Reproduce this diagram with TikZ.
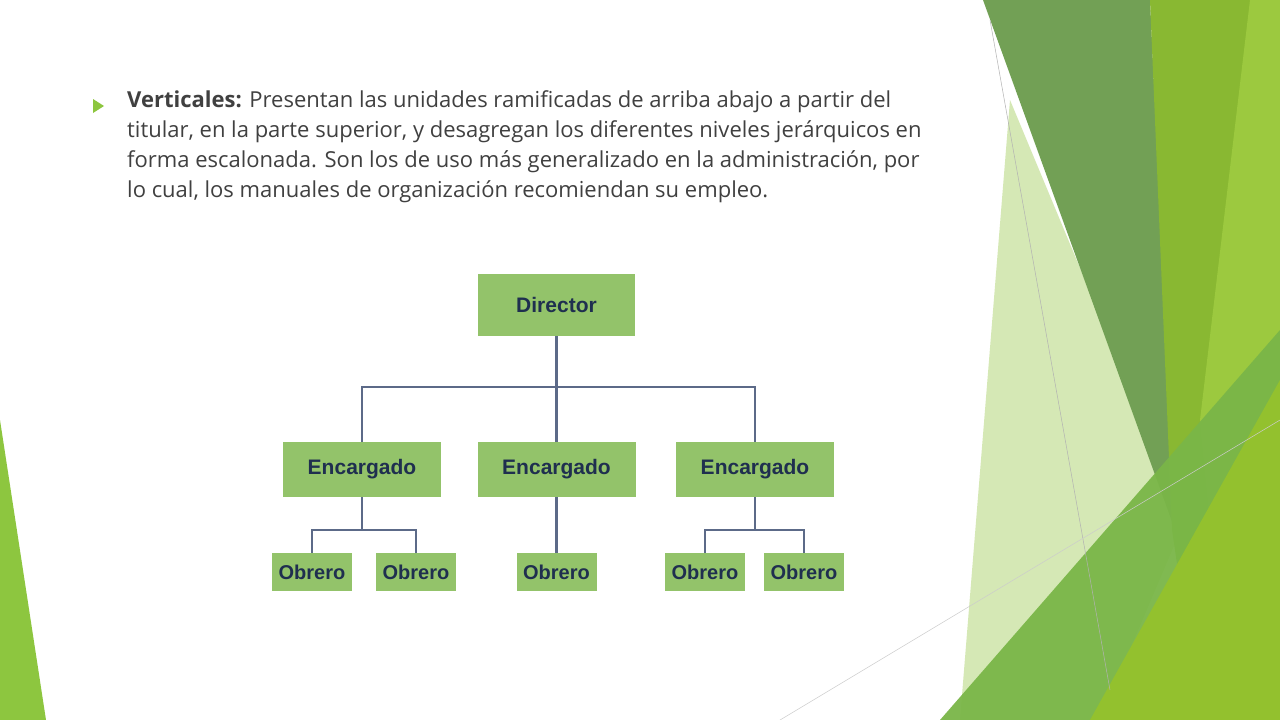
\documentclass[tikz,border=0pt]{standalone}
\usepackage{fontspec}
\setmainfont{Open Sans}
\newfontfamily\boxfont{Liberation Sans}
\begin{document}
\begin{tikzpicture}[x=1pt,y=-1pt,
  box/.style={fill=boxg,draw=none,inner sep=0pt,text=navy},
  link/.style={draw=linec,line width=2.2pt}]
\definecolor{boxg}{HTML}{93C36A}
\definecolor{navy}{HTML}{1F2F4F}
\definecolor{linec}{HTML}{5C6A88}
\definecolor{txt}{HTML}{404040}
\useasboundingbox (0,0) rectangle (1280,720);
\fill[white] (0,0) rectangle (1280,720);
% decoration
\fill[fill={rgb,255:red,141;green,198;blue,63}] (0,420) -- (46,720) -- (0,720) -- cycle;
\fill[fill={rgb,255:red,213;green,232;blue,181}] (1010,100) -- (1185,520) -- (1100,720) -- (960,720) -- cycle;
\fill[fill={rgb,255:red,114;green,160;blue,85}] (983,0) -- (1150,0) -- (1175,530) -- cycle;
\fill[fill={rgb,255:red,137;green,184;blue,50}] (1150,0) -- (1250,0) -- (1280,200) -- (1280,720) -- (1200,720) -- (1172,530) -- cycle;
\fill[fill={rgb,255:red,156;green,201;blue,63}] (1250,0) -- (1280,0) -- (1280,720) -- (1230,720) -- (1200,420) -- cycle;
\fill[fill={rgb,255:red,122;green,182;blue,72},opacity=0.95] (940,720) -- (1280,330) -- (1280,720) -- cycle;
\fill[fill={rgb,255:red,147;green,193;blue,46}] (1090,720) -- (1280,380) -- (1280,720) -- cycle;
\draw[gray!60,line width=0.5pt] (990,20) -- (1110,690);
\draw[gray!40,line width=0.5pt] (780,720) -- (1280,420);
% text
\fill[fill={rgb,255:red,141;green,198;blue,63}] (93,99) -- (104,106) -- (93,113) -- cycle;
\node[anchor=north west,align=left,text=txt,font=\fontsize{22}{30}\selectfont,inner sep=0pt] (para) at (127,90)
{\textbf{Verticales:} Presentan las unidades ramificadas de arriba abajo a partir del\\
titular, en la parte superior, y desagregan los diferentes niveles jerárquicos en\\
forma escalonada. Son los de uso más generalizado en la administración, por\\
lo cual, los manuales de organización recomiendan su empleo.};
% org chart
\node[box,minimum width=157,minimum height=62,font=\boxfont\bfseries\fontsize{21}{22}\selectfont] (d) at (556.5,305) {Director};
\foreach \n/\x in {e1/362,e2/556.5,e3/755}
  \node[box,minimum width=158,minimum height=55,font=\boxfont\bfseries\fontsize{21}{22}\selectfont] (\n) at (\x,469.5) {Encargado};
\foreach \n/\x in {o1/312,o2/416,o3/556.5,o4/705,o5/804}
  \node[box,minimum width=80,minimum height=38,font=\boxfont\bfseries\fontsize{20}{22}\selectfont] (\n) at (\x,572) {Obrero};
\coordinate (h) at (556.5,387);
\draw[link] (d.south) -- (h) -- (e2.north);
\draw[link] (e1.north) |- (h) -| (e3.north);
\draw[link] (e1.south) -- ++(0,33) coordinate (s1);
\draw[link] (o1.north) |- (s1) -| (o2.north);
\draw[link] (e2.south) -- (o3.north);
\draw[link] (e3.south) -- ++(0,33) coordinate (s3);
\draw[link] (o4.north) |- (s3) -| (o5.north);
\end{tikzpicture}
\end{document}
